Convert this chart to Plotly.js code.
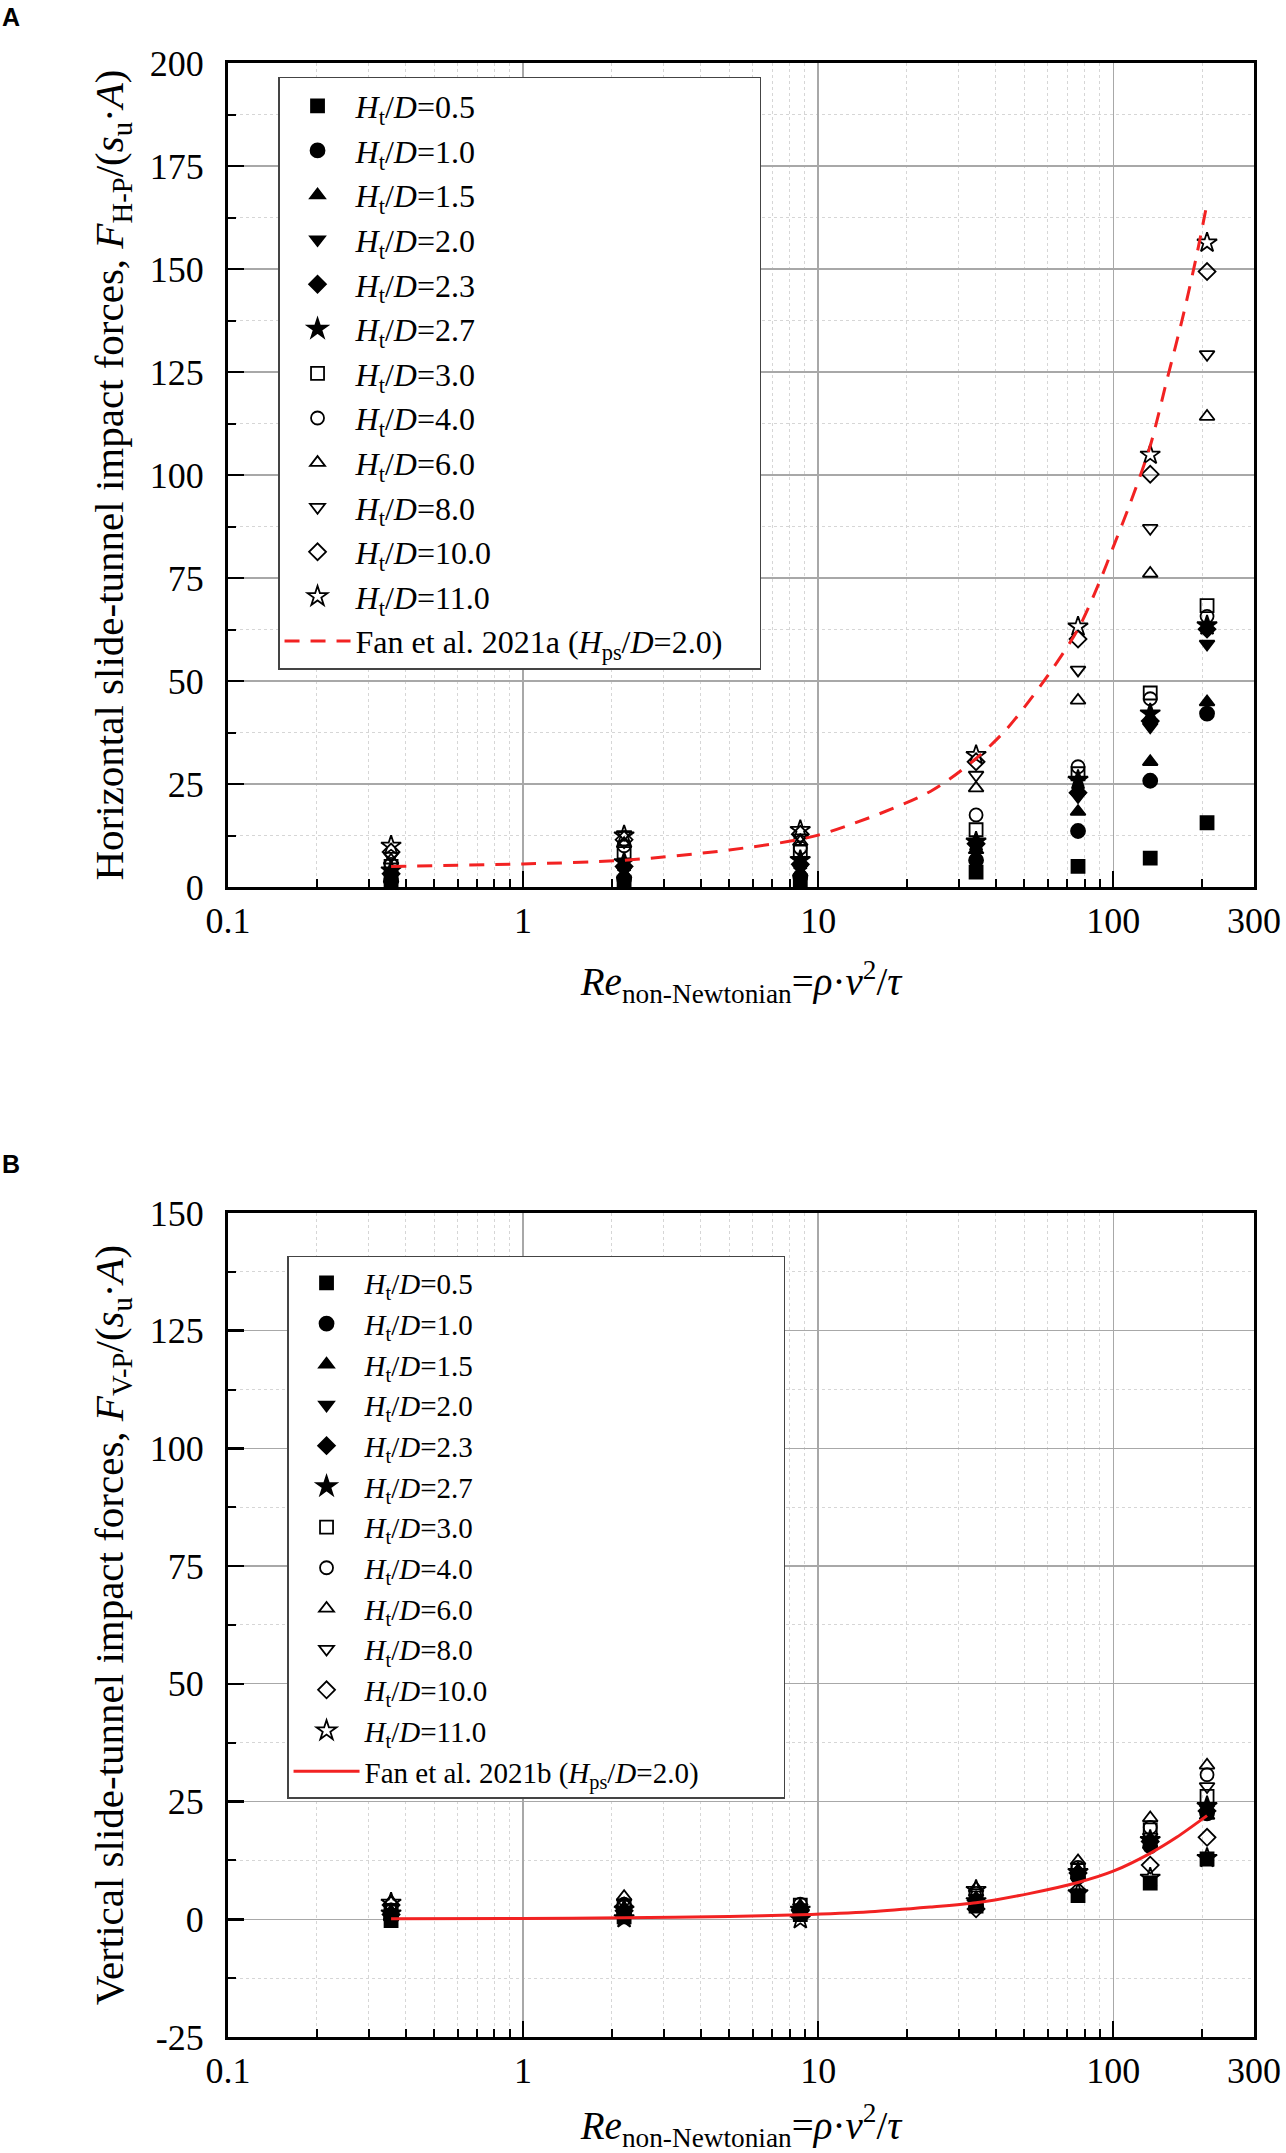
<!DOCTYPE html>
<html>
<head>
<meta charset="utf-8">
<script src="https://cdn.plot.ly/plotly-3.0.1.min.js"></script>
<style>
  body { margin: 0; background: white; }
  #chart { width: 1286px; height: 2153px; }
</style>
</head>
<body>
<div id="chart"></div>
<script>
// Re values of the test groups (same for both panels)
var re = [0.357, 2.2, 8.7, 34.3, 76, 133.5, 208];

// series labels (Ht/D)
var ratios = ['0.5', '1.0', '1.5', '2.0', '2.3', '2.7', '3.0', '4.0', '6.0', '8.0', '10.0', '11.0'];

// panel A - horizontal impact forces
var h05 = [1.0, 1.2, 1.5, 3.6, 5.0, 7.0, 15.6];
var h10 = [1.5, 2.0, 2.5, 6.5, 13.6, 25.8, 42.1];
var h15 = [2.0, 3.0, 3.5, 9.0, 18.3, 30.4, 44.9];
var h20 = [2.5, 4.0, 4.5, 10.0, 22.0, 38.9, 59.0];
var h23 = [3.2, 5.0, 5.5, 10.5, 22.9, 40.3, 62.6];
var h27 = [4.0, 6.0, 6.5, 11.0, 26.0, 42.1, 63.5];
var h30 = [5.0, 8.5, 8.5, 13.9, 27.5, 47.1, 68.3];
var h40 = [5.5, 10.0, 9.5, 17.5, 29.2, 45.7, 65.7];
var h60 = [6.5, 10.5, 11.0, 24.0, 45.3, 76.1, 114.2];
var h80 = [7.5, 12.8, 12.0, 27.2, 52.7, 87.1, 129.3];
var h100 = [8.5, 11.5, 12.8, 30.4, 60.2, 100.2, 149.4];
var h110 = [10.0, 12.5, 13.8, 32.0, 63.2, 104.9, 156.4];

// panel B - vertical impact forces
var v05 = [-0.3, 0.5, 1.0, 2.8, 5.0, 7.7, 12.8];
var v10 = [0.2, 1.0, 1.2, 3.0, 9.0, 15.5, 22.5];
var v15 = [0.5, 1.2, 1.5, 3.2, 9.3, 15.8, 22.0];
var v20 = [0.8, 1.5, 1.7, 3.5, 9.6, 16.2, 23.5];
var v23 = [1.0, 1.8, 1.8, 4.0, 9.8, 16.5, 23.0];
var v27 = [1.2, 2.0, 2.0, 3.8, 10.0, 16.8, 24.0];
var v30 = [1.5, 2.5, 3.0, 5.0, 10.5, 19.0, 26.1];
var v40 = [2.0, 3.2, 3.2, 5.5, 11.0, 19.5, 30.7];
var v60 = [3.8, 4.8, 2.8, 6.6, 12.4, 21.5, 32.7];
var v80 = [2.5, 3.5, 2.5, 4.5, 9.5, 17.5, 28.2];
var v100 = [3.0, 2.8, 2.0, 2.2, 6.0, 11.5, 17.4];
var v110 = [3.5, 0.2, 0.0, 6.2, 5.5, 8.8, 13.0];

// Fan et al. 2021a / 2021b curves
var fanAx = [0.357, 1, 2.2, 5, 10, 24, 34.3, 43.6, 57.3, 75.9, 90.4, 100, 114, 133.4, 152, 173, 192, 208];
var fanAy = [5.0, 5.6, 6.5, 9.0, 12.6, 23.2, 31.2, 38.4, 49.3, 62.5, 74.5, 82.5, 93.0, 107, 123, 139, 153.5, 166];
var fanBx = [0.357, 1, 2.2, 5, 8.7, 15, 24, 34.3, 52.3, 75.9, 100, 133.4, 164, 208];
var fanBy = [0.1, 0.15, 0.3, 0.6, 0.95, 1.6, 2.6, 3.5, 5.5, 7.8, 10.2, 14.0, 17.4, 22.0];

// axis ticks
var xTicks = [0.1, 1, 10, 100, 300];
var xTickText = ['0.1', '1', '10', '100', '300'];
var xMinor = [0.2, 0.3, 0.4, 0.5, 0.6, 0.7, 0.8, 0.9, 2, 3, 4, 5, 6, 7, 8, 9, 20, 30, 40, 50, 60, 70, 80, 90, 200];
var yTicksA = [0, 25, 50, 75, 100, 125, 150, 175, 200];
var yTicksB = [-25, 0, 25, 50, 75, 100, 125, 150];
var yTickTextB = ['-25', '0', '25', '50', '75', '100', '125', '150'];

var hSeries = [h05, h10, h15, h20, h23, h27, h30, h40, h60, h80, h100, h110];
var vSeries = [v05, v10, v15, v20, v23, v27, v30, v40, v60, v80, v100, v110];

var symbols = ['square', 'circle', 'triangle-up', 'triangle-down', 'diamond', 'star',
  'square-open', 'circle-open', 'triangle-up-open', 'triangle-down-open', 'diamond-open', 'star-open'];
var sizes = [13, 14, 13, 13, 13, 15, 13, 13, 13, 13, 13, 15];

var serif = 'Liberation Serif, Times New Roman, serif';
var pad = function (n) { return new Array(n + 1).join('&nbsp;'); };

var data = [];

function addPanel(series, xa, ya, leg) {
  for (var i = 0; i < series.length; i++) {
    data.push({
      x: re, y: series[i],
      xaxis: xa, yaxis: ya, legend: leg,
      type: 'scatter', mode: 'markers',
      name: '<i>H</i><sub>t</sub>/<i>D</i>=' + ratios[i],
      marker: { symbol: symbols[i], size: sizes[i], color: 'black',
                line: { color: 'black', width: 1.8 } }
    });
  }
}

addPanel(hSeries, 'x', 'y', 'legend');
data.push({
  x: fanAx, y: fanAy, xaxis: 'x', yaxis: 'y', legend: 'legend',
  type: 'scatter', mode: 'lines',
  name: 'Fan et al. 2021a (<i>H</i><sub>ps</sub>/<i>D</i>=2.0)' + pad(4),
  line: { color: '#f22222', width: 3, dash: '15px,11px', shape: 'spline', smoothing: 0.8 }
});

addPanel(vSeries, 'x2', 'y2', 'legend2');
data.push({
  x: fanBx, y: fanBy, xaxis: 'x2', yaxis: 'y2', legend: 'legend2',
  type: 'scatter', mode: 'lines',
  name: 'Fan et al. 2021b (<i>H</i><sub>ps</sub>/<i>D</i>=2.0)' + pad(11),
  line: { color: '#f22222', width: 3, shape: 'spline', smoothing: 0.8 }
});

var xTitle = '<i>Re</i><sub>non-Newtonian</sub>=<i>ρ</i>·<i>v</i><sup>2</sup>/<i>τ</i>';

function xAxis(anchor) {
  return {
    anchor: anchor, domain: [0.1773, 0.9751],
    type: 'log', range: [-1, Math.log10(300)],
    tickmode: 'array', tickvals: xTicks, ticktext: xTickText,
    ticks: 'inside', ticklen: 16, tickwidth: 2.5, tickcolor: 'black',
    ticklabelstandoff: 0,
    showline: true, linewidth: 3, linecolor: 'black', mirror: true,
    showgrid: true, gridcolor: '#a8a8a8', gridwidth: 1.3,
    minor: { tickmode: 'array', tickvals: xMinor, ticks: 'inside', ticklen: 8, tickwidth: 2,
             tickcolor: 'black', showgrid: true, gridcolor: '#d6d6d6', griddash: 'dot', gridwidth: 1 },
    tickfont: { family: serif, size: 36, color: 'black' },
    title: { text: xTitle, font: { family: serif, size: 39, color: 'black' }, standoff: 28 },
    automargin: false, zeroline: false
  };
}

function yAxis(anchor, domain, range, vals, text, minorStart, title) {
  return {
    anchor: anchor, domain: domain, range: range,
    tickmode: 'array', tickvals: vals, ticktext: text,
    ticks: 'inside', ticklen: 16, tickwidth: 2.5, tickcolor: 'black',
    ticklabelstandoff: 14,
    showline: true, linewidth: 3, linecolor: 'black', mirror: true,
    showgrid: true, gridcolor: '#a8a8a8', gridwidth: 1.3,
    minor: { tick0: minorStart, dtick: 12.5, ticks: 'inside', ticklen: 8, tickwidth: 2,
             tickcolor: 'black', showgrid: true, gridcolor: '#d6d6d6', griddash: 'dot', gridwidth: 1 },
    tickfont: { family: serif, size: 36, color: 'black' },
    title: { text: title, font: { family: serif, size: 41, color: 'black' }, standoff: 14 },
    automargin: false, zeroline: false
  };
}

var legendStyle = function (x, y, size) {
  return {
    x: x, y: y, xanchor: 'left', yanchor: 'top',
    bgcolor: 'white', bordercolor: '#444', borderwidth: 1.5,
    font: { family: serif, size: size, color: 'black' },
    itemwidth: 66, tracegroupgap: 0
  };
};

var layout = {
  width: 1286, height: 2153,
  margin: { l: 0, r: 0, t: 0, b: 0, autoexpand: false },
  paper_bgcolor: 'white', plot_bgcolor: 'white',
  showlegend: true,
  xaxis: xAxis('y'),
  yaxis: yAxis('x', [0.5880, 0.9707], [0, 200], yTicksA, yTicksA.map(String), 0,
    'Horizontal slide-tunnel impact forces, <i>F</i><sub>H-P</sub>/(<i>s</i><sub>u</sub>·<i>A</i>)'),
  xaxis2: xAxis('y2'),
  yaxis2: yAxis('x2', [0.0539, 0.4366], [-25, 150], yTicksB, yTickTextB, -25,
    'Vertical slide-tunnel impact forces, <i>F</i><sub>V-P</sub>/(<i>s</i><sub>u</sub>·<i>A</i>)'),
  legend: legendStyle(0.2162, 0.96424, 32),
  legend2: legendStyle(0.2232, 0.41663, 29),
  annotations: [
    { text: '<b>A</b>', xref: 'paper', yref: 'paper', x: 0, y: 0.9921,
      xanchor: 'left', yanchor: 'middle', showarrow: false,
      font: { family: 'Liberation Sans, Arial, sans-serif', size: 25, color: 'black' } },
    { text: '<b>B</b>', xref: 'paper', yref: 'paper', x: 0, y: 0.4594,
      xanchor: 'left', yanchor: 'middle', showarrow: false,
      font: { family: 'Liberation Sans, Arial, sans-serif', size: 25, color: 'black' } }
  ]
};

Plotly.newPlot('chart', data, layout, { staticPlot: true });
</script>
</body>
</html>
